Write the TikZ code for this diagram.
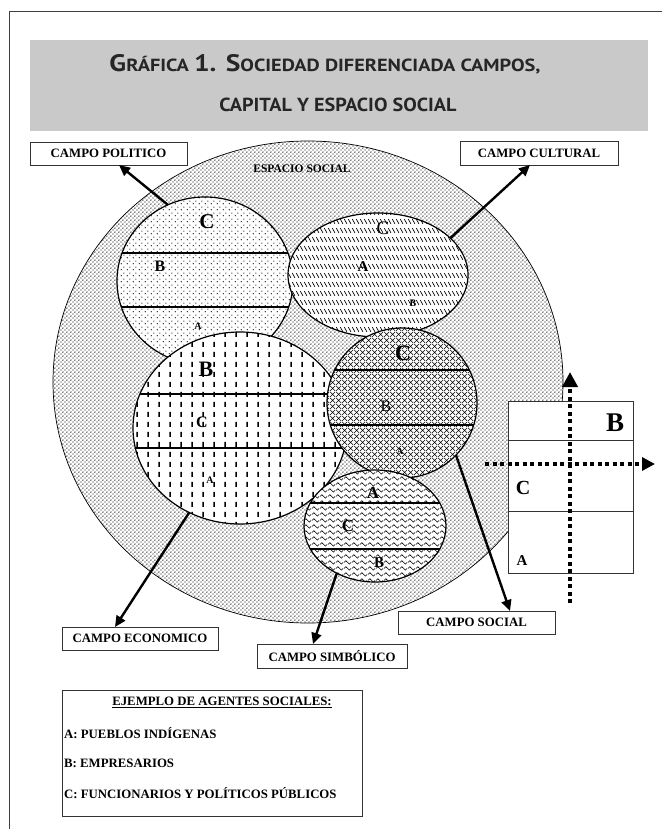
\documentclass[tikz,border=0pt]{standalone}
\usepackage{fontspec}
\usepackage{graphicx}
\setmainfont{Liberation Serif}[BoldFont={Liberation Serif Bold}]
\newfontfamily\titlefont{PT Sans}
\usetikzlibrary{shapes.geometric,arrows.meta,patterns}
\newcommand\fsz[1]{\fontsize{#1}{#1}\selectfont}
\newcommand\bigL[1]{{\fontsize{19}{19}\selectfont #1}}
\newcommand\smL[1]{{\fontsize{14}{14}\selectfont #1}}
% patterns
\pgfdeclarepatternformonly{outdots}{\pgfqpoint{0pt}{0pt}}{\pgfqpoint{4.4pt}{4.4pt}}{\pgfqpoint{4.4pt}{4.4pt}}{%
  \pgfpathcircle{\pgfqpoint{1.1pt}{1.1pt}}{0.78pt}%
  \pgfpathcircle{\pgfqpoint{3.3pt}{3.3pt}}{0.78pt}%
  \pgfusepath{fill}}
\pgfdeclarepatternformonly{polidots}{\pgfqpoint{0pt}{0pt}}{\pgfqpoint{6pt}{6pt}}{\pgfqpoint{6pt}{6pt}}{%
  \pgfpathcircle{\pgfqpoint{1.5pt}{1.5pt}}{0.7pt}%
  \pgfpathcircle{\pgfqpoint{4.5pt}{4.5pt}}{0.7pt}%
  \pgfusepath{fill}}
\pgfdeclarepatternformonly{cultslash}{\pgfqpoint{0pt}{0pt}}{\pgfqpoint{4pt}{9pt}}{\pgfqpoint{4pt}{9pt}}{%
  \pgfsetlinewidth{0.85pt}%
  \pgfpathmoveto{\pgfqpoint{0.4pt}{7.5pt}}\pgfpathlineto{\pgfqpoint{3.6pt}{2.5pt}}%
  \pgfusepath{stroke}}
\pgfdeclarepatternformonly{vdash}{\pgfqpoint{0pt}{0pt}}{\pgfqpoint{11pt}{10pt}}{\pgfqpoint{11pt}{10pt}}{%
  \pgfsetlinewidth{1.5pt}%
  \pgfpathmoveto{\pgfqpoint{5.5pt}{2.3pt}}\pgfpathlineto{\pgfqpoint{5.5pt}{7.7pt}}%
  \pgfusepath{stroke}}
\pgfdeclarepatternformonly{xhatch}{\pgfqpoint{0pt}{0pt}}{\pgfqpoint{6pt}{6pt}}{\pgfqpoint{6pt}{6pt}}{%
  \pgfsetlinewidth{0.6pt}%
  \pgfpathmoveto{\pgfqpoint{0pt}{0pt}}\pgfpathlineto{\pgfqpoint{6pt}{6pt}}%
  \pgfpathmoveto{\pgfqpoint{0pt}{6pt}}\pgfpathlineto{\pgfqpoint{6pt}{0pt}}%
  \pgfusepath{stroke}}
\pgfdeclarepatternformonly{zig}{\pgfqpoint{0pt}{0pt}}{\pgfqpoint{8pt}{6pt}}{\pgfqpoint{8pt}{6pt}}{%
  \pgfsetlinewidth{0.65pt}%
  \pgfpathmoveto{\pgfqpoint{0pt}{3pt}}\pgfpathlineto{\pgfqpoint{2pt}{5pt}}%
  \pgfpathlineto{\pgfqpoint{6pt}{1pt}}\pgfpathlineto{\pgfqpoint{8pt}{3pt}}%
  \pgfusepath{stroke}}
\tikzset{
  field/.style={ellipse, draw=black, line width=1.2pt, inner sep=0pt, outer sep=0pt, preaction={fill=white}},
  band/.style={line width=2.6pt},
  arr/.style={line width=2.4pt, -{Triangle[length=11pt,width=10pt]}},
  lbox/.style={draw=black!80, line width=0.9pt, fill=white, font=\bfseries\fsz{12.8}, inner sep=0pt, minimum height=23pt},
  lab/.style={inner sep=0pt, font=\bfseries},
  dotax/.style={line width=4pt, dash pattern=on 4pt off 3.5pt},
  legtxt/.style={inner sep=0pt, anchor=west, font=\bfseries\fsz{12.8}},
  ttl/.style={font=\titlefont\bfseries, text=black!85, inner sep=0pt, anchor=base},
}
\begin{document}
\begin{tikzpicture}[x=1pt,y=-1pt]
\useasboundingbox (0,0) rectangle (666,829);
% frame
\draw[line width=1pt, black!75] (9,835) -- (9,12) -- (662,12);
% title
\fill[black!21] (30,40) rectangle (648,131);
\node[ttl] (t1) at (325,72)
  {\resizebox{431pt}{17pt}{\bigL{G}\smL{RÁFICA }\bigL{1. S}\smL{OCIEDAD DIFERENCIADA CAMPOS,}}};
\node[ttl] (t2) at (338,112)
  {\resizebox{237pt}{13.5pt}{\smL{CAPITAL Y ESPACIO SOCIAL}}};

% social space
\node[field, line width=0.7pt, minimum width=510pt, minimum height=482pt, pattern=outdots] (esp) at (308,382) {};
\node[lab, font=\bfseries\fsz{11.5}] (espl) at (302,169) {ESPACIO SOCIAL};

% political field
\node[field, minimum width=176pt, minimum height=168pt, pattern=polidots] (pol) at (205,281) {};
\begin{scope}
  \clip (205,281) ellipse [x radius=88, y radius=84];
  \draw[band] (100,253) -- (310,253);
  \draw[band] (100,307) -- (310,307);
\end{scope}
\node[lab, font=\bfseries\fsz{21}] (polC) at (207,222) {C};
\node[lab, font=\bfseries\fsz{16}] (polB) at (160,266) {B};
\node[lab, font=\bfseries\fsz{10}] (polA) at (198,326) {A};

% cultural field
\node[field, minimum width=180pt, minimum height=124pt, pattern=cultslash] (cult) at (378,275) {};
\node[lab, font=\fsz{19}] (cultC) at (383,228) {C};
\node[lab, font=\bfseries\fsz{15}] (cultA) at (363,267) {A};
\node[lab, font=\bfseries\fsz{10}] (cultB) at (413,303) {B};

% economic field
\node[field, minimum width=214pt, minimum height=192pt, pattern=vdash] (econ) at (240,428) {};
\begin{scope}
  \clip (240,428) ellipse [x radius=107, y radius=96];
  \draw[band] (120,394) -- (360,394);
  \draw[band] (120,448) -- (360,448);
\end{scope}
\node[lab, font=\bfseries\fsz{22}] (econB) at (206,369) {B};
\node[lab, font=\bfseries\fsz{16}] (econC) at (202,422) {C};
\node[lab, font=\bfseries\fsz{10}] (econA) at (210,480) {A};

% social field
\node[field, minimum width=150pt, minimum height=150pt, pattern=xhatch] (soc) at (402,403) {};
\begin{scope}
  \clip (402,403) ellipse [x radius=75, y radius=75];
  \draw[band] (320,370) -- (490,370);
  \draw[band] (320,425) -- (490,425);
\end{scope}
\node[lab, font=\bfseries\fsz{22}] (socC) at (403,353) {C};
\node[lab, font=\fsz{16}] (socB) at (386,406) {B};
\node[lab, font=\bfseries\fsz{9}] (socA) at (400,452) {A};

% symbolic field
\node[field, minimum width=142pt, minimum height=112pt, pattern=zig] (sim) at (375,526) {};
\begin{scope}
  \clip (375,526) ellipse [x radius=71, y radius=56];
  \draw[band] (300,503) -- (450,503);
  \draw[band] (300,549) -- (450,549);
\end{scope}
\node[lab, font=\bfseries\fsz{17}] (simA) at (373,493) {A};
\node[lab, font=\bfseries\fsz{17}] (simC) at (348,526) {C};
\node[lab, font=\bfseries\fsz{15}] (simB) at (379,563) {B};

% label boxes
\node[lbox, minimum width=157pt] (polbox) at (108.5,153.5) {CAMPO POLITICO};
\node[lbox, minimum width=158pt, minimum height=24pt] (cultbox) at (539,153) {CAMPO CULTURAL};
\node[lbox, minimum width=156pt] (econbox) at (140,638.5) {CAMPO ECONOMICO};
\node[lbox, minimum width=150pt, minimum height=24pt] (simbox) at (332,656) {CAMPO SIMBÓLICO};
\node[lbox, minimum width=157pt] (socbox) at (476.5,622.5) {CAMPO SOCIAL};

% arrows
\coordinate (polT) at (119,165);
\coordinate (cultT) at (530,165);
\coordinate (econT) at (115,627);
\coordinate (simT) at (313,644);
\coordinate (socT) at (510,611);
\draw[arr] (pol.116) -- (polT);
\draw[arr] (cult.27) -- (cultT);
\draw[arr] (econ.239) -- (econT);
\draw[arr] (sim.231) -- (simT);
\draw[arr] (soc.316) -- (socT);

% right box with axes
\node[draw=black!80, line width=1pt, fill=white, minimum width=125pt, minimum height=172pt, inner sep=0pt] (grid) at (570.5,487) {};
\draw[line width=1pt, black!80] (grid.west |- 0,440) -- (grid.east |- 0,440);
\draw[line width=1pt, black!80] (grid.west |- 0,511) -- (grid.east |- 0,511);
\node[lab, font=\bfseries\fsz{27}] (gB) at (615,423) {B};
\node[lab, font=\bfseries\fsz{20}] (gC) at (523,488) {C};
\node[lab, font=\bfseries\fsz{15}] (gA) at (522,561) {A};
\coordinate (vbot) at (570,603);
\coordinate (vtop) at (570,372);
\coordinate (hl) at (485,464);
\coordinate (hr) at (655,464);
\draw[dotax, -{Triangle[length=15pt,width=15pt]}] (vbot) -- (vtop);
\draw[dotax, -{Triangle[length=13pt,width=13pt]}] (hl) -- (hr);

% legend
\node[draw=black!80, line width=1pt, minimum width=300pt, minimum height=126pt, inner sep=0pt] (leg) at (212,753.5) {};
\node[inner sep=0pt, font=\bfseries\fsz{12.8}] (legh) at (222,702) {\underline{EJEMPLO DE AGENTES SOCIALES:}};
\node[legtxt] (legA) at (64,733) {A: PUEBLOS INDÍGENAS};
\node[legtxt] (legB) at (64,763) {B: EMPRESARIOS};
\node[legtxt] (legC) at (64,793) {C: FUNCIONARIOS Y POLÍTICOS PÚBLICOS};
\end{tikzpicture}
\end{document}
